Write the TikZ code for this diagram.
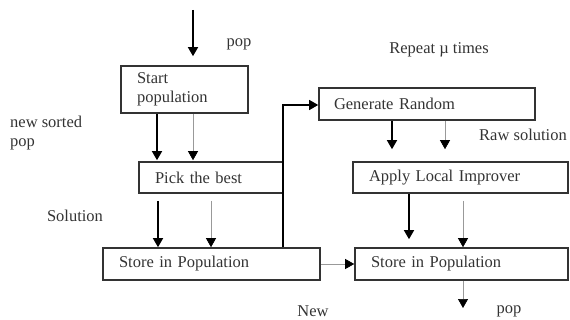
\documentclass[tikz,border=0pt]{standalone}
\usepackage{fontspec}
\setmainfont{Liberation Serif}
\usetikzlibrary{arrows.meta}
\begin{document}
\begin{tikzpicture}[x=1pt,y=-1pt,
  font=\fontsize{16.5}{19}\selectfont,
  every node/.style={text=black!80},
  box/.style={draw=black!80, line width=1.6pt, inner xsep=16pt, inner ysep=0pt, align=left},
  darr/.style={draw=black, line width=1.4pt, -{Triangle[width=10pt,length=9pt]}},
  larr/.style={draw=black!40, line width=0.7pt, -{Triangle[width=10pt,length=9pt,color=black]}},
  lbl/.style={inner sep=0pt}]
\useasboundingbox (0,0) rectangle (570,320);
% boxes
\node[box, minimum width=127pt, minimum height=47pt, text width=95pt] (start) at (184.5,89.5) {Start\\population};
\node[box, minimum width=144pt, minimum height=31pt, text width=112pt] (pick) at (211,177.5) {Pick the best};
\node[box, minimum width=217pt, minimum height=32pt, text width=185pt] (store1) at (211.5,264) {Store in Population};
\node[box, minimum width=216pt, minimum height=32pt, text width=186pt, inner xsep=14pt] (gen) at (427,104) {Generate Random};
\node[box, minimum width=215pt, minimum height=31pt, text width=183pt] (apply) at (460.5,177.5) {Apply Local Improver};
\node[box, minimum width=213pt, minimum height=32pt, text width=181pt] (store2) at (461.5,264) {Store in Population};
% labels
\node[lbl] (lpop1) at (239,44) {pop};
\node[lbl, align=left, anchor=west] (lnsp) at (10,133) {new sorted\\pop};
\node[lbl] (lsol) at (75,216) {Solution};
\node[lbl] (lrep) at (439,50) {Repeat \textmu\ times};
\node[lbl] (lraw) at (523,135) {Raw solution};
\node[lbl] (lnew) at (313,311) {New};
\node[lbl] (lpop2) at (509,311) {pop};
% coordinates
\coordinate (top) at (193,10);
\coordinate (bot) at (463,308);
\coordinate (corner) at (283,105);
% arrows
\draw[darr, shorten >=9pt] (top) -- (top |- start.north);
\draw[darr, shorten >=1pt] (start.south -| 157,0) -- (pick.north -| 157,0);
\draw[larr, shorten >=1pt] (start.south -| 193,0) -- (pick.north -| 193,0);
\draw[darr, shorten <=7pt] (pick.south -| 158,0) -- (store1.north -| 158,0);
\draw[larr, shorten <=7pt] (pick.south -| 211,0) -- (store1.north -| 211,0);
\draw[darr, shorten >=12pt] (gen.south -| 392,0) -- (apply.north -| 392,0);
\draw[larr, shorten >=12pt] (gen.south -| 445,0) -- (apply.north -| 445,0);
\draw[darr, shorten >=8pt] (apply.south -| 409,0) -- (store2.north -| 409,0);
\draw[larr, shorten <=7pt] (apply.south -| 463,0) -- (store2.north -| 463,0);
\draw[larr] (store1.east) -- (store2.west);
\draw[larr] (store2.south -| bot) -- (bot);
\draw[darr, line width=1.1pt] (store1.north -| corner) -- (corner) -- (corner -| gen.west);
\end{tikzpicture}
\end{document}
